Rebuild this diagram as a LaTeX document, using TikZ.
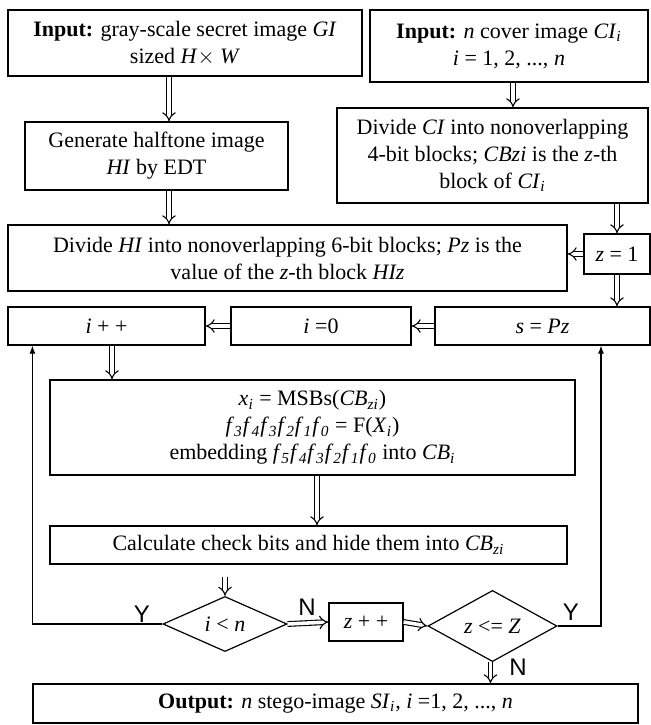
\documentclass[tikz,border=0pt]{standalone}
\usepackage{fontspec}
\setmainfont{Liberation Serif}
\newfontfamily\ynfont{Liberation Sans}
\usetikzlibrary{shapes.geometric,arrows.meta}
\newcommand{\vi}[1]{\textit{#1}}
\newcommand{\vsb}[2]{\textit{#1}\textsubscript{\textit{#2}}}
\begin{document}
\begin{tikzpicture}[x=0.5pt,y=-0.5pt]
  \tikzset{box node/.style={rectangle,draw=black,line width=0.6pt,fill=white,align=center,inner sep=1pt,
      font=\fontsize{11}{13.5}\selectfont},
    dia node/.style={diamond,draw=black,line width=0.6pt,fill=white,inner sep=0pt,
      font=\fontsize{11}{13.5}\selectfont},
    yn label/.style={font=\ynfont\fontsize{12}{14}\selectfont,inner sep=0pt},
    dbl/.style={double,double distance=1.8pt,line width=0.55pt,-{Implies[length=2.6pt]}},
    back/.style={line width=0.6pt,-{Latex[length=4pt,width=3pt]}}}
  \useasboundingbox (0,0) rectangle (651,725);
  % top inputs
  \node[box node,minimum width=177pt,minimum height=33pt] (gsi) at (185,43)
    {\textbf{Input:} gray-scale secret image \vi{GI}\\ sized \vi{H}$\times$ \vi{W}};
  \node[box node,minimum width=139pt,minimum height=36pt] (cover) at (509,46)
    {\textbf{Input:} \vi{n} cover image \vsb{CI}{i}\\ \vi{i} = 1, 2, ..., \vi{n}};
  \node[box node,minimum width=131.5pt,minimum height=34pt] (halftone) at (156.5,156)
    {Generate halftone image\\ \vi{HI} by EDT};
  \node[box node,minimum width=155.5pt,minimum height=47.5pt] (divci) at (492.5,155.5)
    {Divide \vi{CI} into nonoverlapping\\ 4-bit blocks; \vi{CBzi} is the \vi{z}-th\\ block of \vsb{CI}{i}};
  \node[box node,minimum width=279.5pt,minimum height=33pt] (divhi) at (287.5,258)
    {Divide \vi{HI} into nonoverlapping 6-bit blocks; \vi{Pz} is the\\ value of the \vi{z}-th block \vi{HIz}};
  \node[box node,minimum width=33pt,minimum height=20pt] (zone) at (617,254) {\vi{z} = 1};
  % second row
  \node[box node,minimum width=98.5pt,minimum height=19pt] (iinc) at (106.5,326) {\vi{i} + +};
  \node[box node,minimum width=90pt,minimum height=19pt] (izero) at (321,326) {\vi{i} =0};
  \node[box node,minimum width=107.5pt,minimum height=19pt] (spz) at (542.5,326) {\vi{s} = \vi{Pz}};
  % embedding
  \node[box node,minimum width=262.5pt,minimum height=47.5pt] (embed) at (312.5,427.5)
    {\vsb{x}{i} = MSBs(\vsb{CB}{zi})\\
     \vsb{f}{3}\vsb{f}{4}\vsb{f}{3}\vsb{f}{2}\vsb{f}{1}\vsb{f}{0} = F(\vsb{X}{i})\\
     embedding \vsb{f}{5}\vsb{f}{4}\vsb{f}{3}\vsb{f}{2}\vsb{f}{1}\vsb{f}{0} into \vsb{CB}{i}};
  \node[box node,minimum width=258.5pt,minimum height=19pt] (check) at (308.5,545)
    {Calculate check bits and hide them into \vsb{CB}{zi}};
  % decisions
  \node[dia node,minimum width=62pt,minimum height=20pt] (iltn) at (225,624) {\vi{i} < \vi{n}};
  \node[box node,minimum width=37pt,minimum height=19pt] (zinc) at (366,622) {\vi{z} + +};
  \node[dia node,minimum width=64.5pt,minimum height=30pt] (zlez) at (492.5,626) {\vi{z} <= \vi{Z}};
  \node[box node,minimum width=302.5pt,minimum height=19.5pt] (output) at (335.5,703.5)
    {\textbf{Output:} \vi{n} stego-image \vsb{SI}{i}, \vi{i} =1, 2, ..., \vi{n}};
  % labels
  \node[yn label] (ylft) at (142,614) {Y};
  \node[yn label] (nmid) at (307,607) {N};
  \node[yn label] (yrgt) at (571,612) {Y};
  \node[yn label] (nbot) at (518,667) {N};
  % connectors
  \draw[dbl] ([xshift=6.25pt]halftone.north |- gsi.south) -- ([xshift=6.25pt]halftone.north);
  \draw[dbl] ([xshift=6.25pt]halftone.south) -- ([xshift=6.25pt]halftone.south |- divhi.north);
  \draw[dbl] ([xshift=2pt]cover.south) -- ([xshift=2pt]cover.south |- divci.north);
  \draw[dbl] (zone.north |- divci.south) -- (zone.north);
  \draw[dbl] (zone.west) -- (zone.west -| divhi.east);
  \draw[dbl] (zone.south) -- (zone.south |- spz.north);
  \draw[dbl] (spz.west) -- (izero.east);
  \draw[dbl] (izero.west) -- (iinc.east);
  \draw[dbl] ([xshift=2.75pt]iinc.south) -- ([xshift=2.75pt]iinc.south |- embed.north);
  \draw[dbl] ([xshift=2.25pt]embed.south) -- ([xshift=2.25pt]embed.south |- check.north);
  \draw[dbl] ([yshift=-6pt]iltn.north |- check.south) -- (iltn.north);
  \draw[dbl] (iltn.east) -- (zinc.west);
  \draw[dbl] (zinc.east) -- (zlez.west);
  \draw[dbl] ([xshift=-1pt]zlez.south) -- ([xshift=-1pt]zlez.south |- output.north);
  \draw[back] (iltn.west) -| ([xshift=12.5pt]iinc.south west);
  \draw[back] (zlez.east) -| ([xshift=29.25pt]spz.south);
\end{tikzpicture}
\end{document}
